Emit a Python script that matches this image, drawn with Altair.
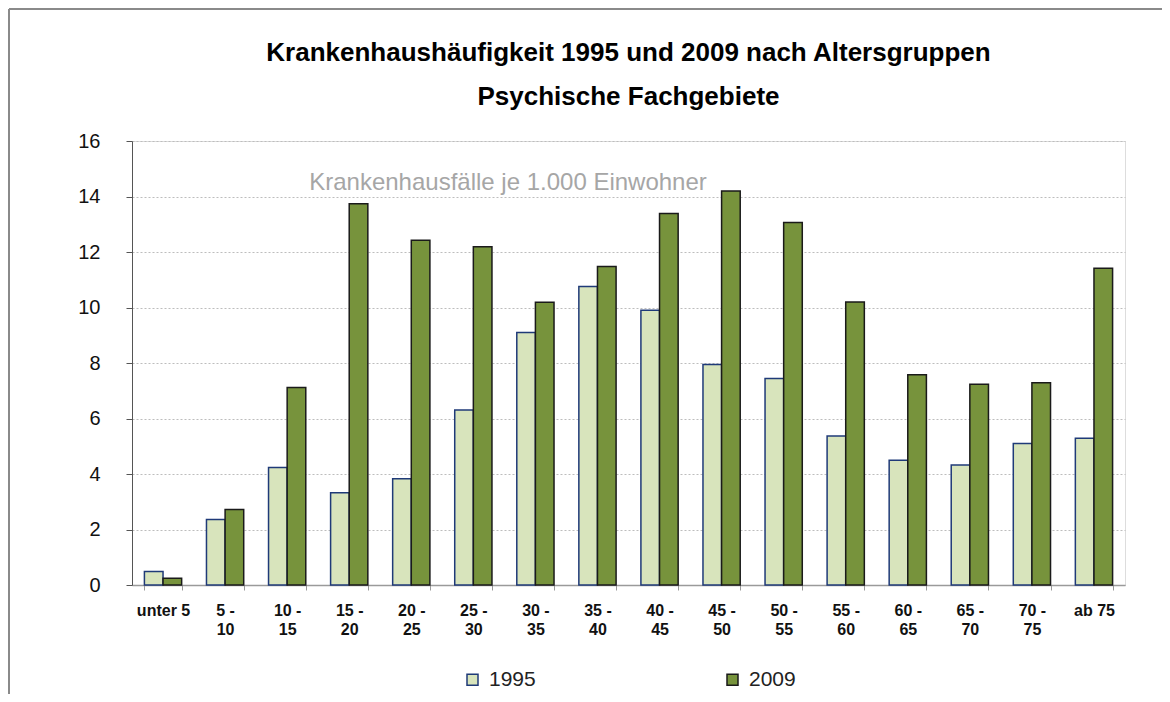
import altair as alt
import pandas as pd

categories = ["unter 5", "5 -|10", "10 -|15", "15 -|20", "20 -|25", "25 -|30", "30 -|35",
              "35 -|40", "40 -|45", "45 -|50", "50 -|55", "55 -|60", "60 -|65", "65 -|70",
              "70 -|75", "ab 75"]
values_1995 = [0.49, 2.36, 4.23, 3.32, 3.83, 6.31, 9.10, 10.76, 9.90, 7.95, 7.44, 5.37, 4.50, 4.32, 5.10, 5.29]
values_2009 = [0.24, 2.72, 7.12, 13.74, 12.42, 12.19, 10.19, 11.48, 13.39, 14.20, 13.06, 10.20, 7.58, 7.23, 7.29, 11.41]
years = ["1995", "2009"]
fill_colors = ["#d8e4bc", "#77933c"]
stroke_colors = ["#1f3a78", "#1a1a1a"]
y_ticks = [0, 2, 4, 6, 8, 10, 12, 14, 16]
note = "Krankenhausfälle je 1.000 Einwohner"

rows = []
for c, a, b in zip(categories, values_1995, values_2009):
    rows.append({"Altersgruppe": c, "Jahr": years[0], "Wert": a})
    rows.append({"Altersgruppe": c, "Jahr": years[1], "Wert": b})
df = pd.DataFrame(rows)

FONT = "Liberation Sans"

legend = alt.Legend(
    title=None, orient="none", legendX=330, legendY=528, direction="horizontal",
    symbolType="square", symbolSize=121, symbolStrokeWidth=1.5,
    labelFontSize=21, labelFont=FONT, labelColor="#222222", labelOffset=6,
    columnPadding=186,
)

bars = alt.Chart(df).mark_bar(strokeWidth=1.5).encode(
    x=alt.X("Altersgruppe:N", sort=categories,
            scale=alt.Scale(paddingInner=0.4, paddingOuter=0.2),
            axis=alt.Axis(title=None, labelExpr="split(datum.label, '|')", labelAngle=0,
                          tickBand="extent", labelOverlap=False, labelFontSize=16,
                          labelFont=FONT, labelFontWeight="bold", labelColor="#111111",
                          labelPadding=12, labelLineHeight=19, labelBaseline="top",
                          domainColor="#9a9a9a", tickColor="#9a9a9a", tickSize=5,
                          domainWidth=1.5, grid=False)),
    xOffset=alt.XOffset("Jahr:N", sort=years),
    y=alt.Y("Wert:Q", scale=alt.Scale(domain=[0, 16], nice=False),
            axis=alt.Axis(title=None, values=y_ticks, labelFontSize=20, labelFont=FONT,
                          labelColor="#111111", labelPadding=26, tickSize=6,
                          domainColor="#555555", tickColor="#555555",
                          gridColor="#bdbdbd", gridDash=[2, 2], gridWidth=1)),
    fill=alt.Fill("Jahr:N", scale=alt.Scale(domain=years, range=fill_colors), legend=legend),
    stroke=alt.Stroke("Jahr:N", scale=alt.Scale(domain=years, range=stroke_colors), legend=legend),
)

text = alt.Chart(pd.DataFrame({"t": [note]})).mark_text(
    font=FONT, fontSize=24, color="#a6a6a6", align="center", baseline="middle"
).encode(text="t:N", x=alt.value(376), y=alt.value(42))

frame_top = alt.Chart(pd.DataFrame({"a": [0]})).mark_rule(color="#8a8a8a", strokeWidth=2).encode(
    x=alt.value(-123), x2=alt.value(1030), y=alt.value(-132))
frame_left = alt.Chart(pd.DataFrame({"a": [0]})).mark_rule(color="#8a8a8a", strokeWidth=2).encode(
    x=alt.value(-123), y=alt.value(-132), y2=alt.value(553))

chart = alt.layer(bars, text, frame_top, frame_left).properties(
    width=993, height=444,
    padding={"left": 124, "top": 133, "right": 37, "bottom": 109},
    autosize=alt.AutoSizeParams(type="none"),
    title=alt.TitleParams(
        text="Krankenhaushäufigkeit 1995 und 2009 nach Altersgruppen",
        subtitle="Psychische Fachgebiete",
        font=FONT, fontSize=26, fontWeight="bold", color="#000000",
        subtitleFont=FONT, subtitleFontSize=26, subtitleFontWeight="bold",
        subtitleColor="#000000", subtitlePadding=18, offset=-102, anchor="middle",
    ),
).configure_view(stroke=None).configure(background="white")

chart.save("out.html", embed_options={"renderer": "svg", "actions": False})
